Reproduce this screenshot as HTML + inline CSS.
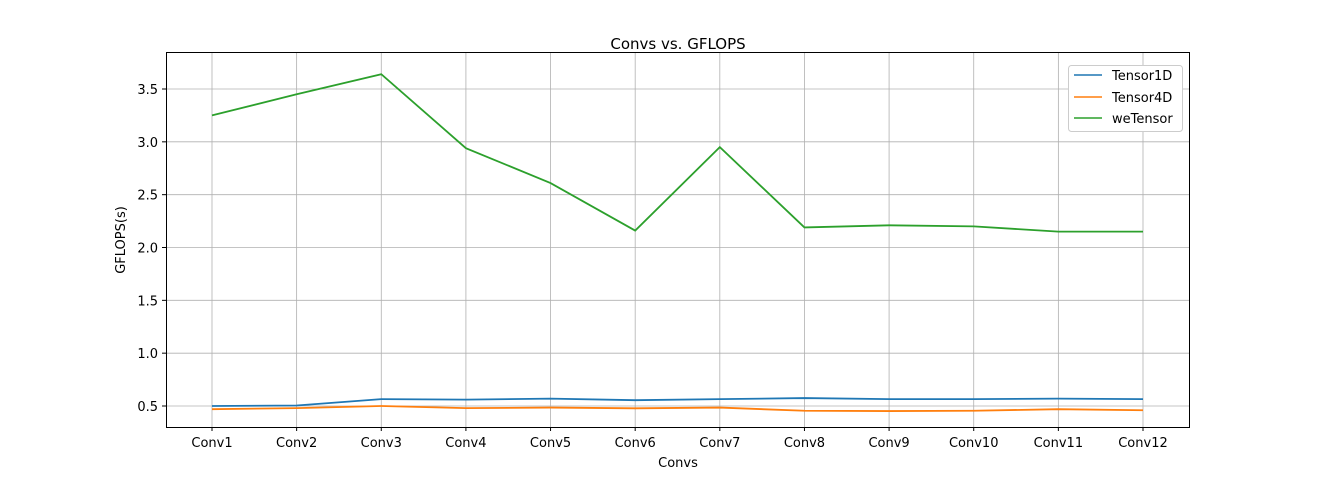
<!DOCTYPE html>
<html><head><meta charset="utf-8"><style>
body{margin:0;background:#fff;font-family:"Liberation Sans","DejaVu Sans",sans-serif}
svg text{font-family:"DejaVu Sans","Liberation Sans",sans-serif;font-size:13px;fill:#000}
</style></head><body>
<svg id="chart" width="1322" height="480" xmlns="http://www.w3.org/2000/svg">
<rect width="1322" height="480" fill="#fff"/>
<g id="grid"></g><g id="lines"></g>
<rect x="166.5" y="52.5" width="1023" height="375" fill="none" stroke="#000" stroke-width="1"/>
<g id="ticks"></g>
<text x="678" y="49" text-anchor="middle" style="font-size:15px">Convs vs. GFLOPS</text>
<text x="678" y="467" text-anchor="middle">Convs</text>
<text transform="translate(125,240) rotate(-90)" text-anchor="middle">GFLOPS(s)</text>
<g>
<rect x="1068.5" y="65.5" width="114" height="66" rx="3" fill="#fff" stroke="#ccc"/>
<line x1="1074" y1="75" x2="1102" y2="75" stroke="#1f77b4" stroke-width="1.5"/><text x="1112" y="80">Tensor1D</text>
<line x1="1074" y1="97" x2="1102" y2="97" stroke="#ff7f0e" stroke-width="1.5"/><text x="1112" y="102">Tensor4D</text>
<line x1="1074" y1="118" x2="1102" y2="118" stroke="#2ca02c" stroke-width="1.5"/><text x="1112" y="123">weTensor</text>
</g>
</svg>
<script>
const categories=["Conv1","Conv2","Conv3","Conv4","Conv5","Conv6","Conv7","Conv8","Conv9","Conv10","Conv11","Conv12"];
const tensor1D=[0.50,0.505,0.565,0.56,0.57,0.555,0.565,0.575,0.565,0.565,0.57,0.565];
const tensor4D=[0.47,0.48,0.50,0.48,0.485,0.478,0.485,0.455,0.452,0.455,0.47,0.46];
const weTensor=[3.25,3.45,3.64,2.94,2.61,2.16,2.95,2.19,2.21,2.20,2.15,2.15];
const yTicks=[0.5,1.0,1.5,2.0,2.5,3.0,3.5];
const NS="http://www.w3.org/2000/svg";
const x=i=>212+i*(1143-212)/11;
const y=v=>406-(v-0.5)*(317/3);
const grid=document.getElementById('grid'),ticks=document.getElementById('ticks'),lines=document.getElementById('lines');
function mk(tag,attrs,parent,txt){const e=document.createElementNS(NS,tag);for(const k in attrs)e.setAttribute(k,attrs[k]);if(txt!==undefined)e.textContent=txt;parent.appendChild(e);return e;}
categories.forEach((c,i)=>{
 const g=mk('line',{x1:x(i),x2:x(i),y1:52,y2:427,stroke:'#b0b0b0','stroke-width':0.8},grid);
 
 
 mk('line',{x1:x(i),x2:x(i),y1:427,y2:431,stroke:'#000'},ticks);
 const t=mk('text',{x:x(i),y:447,'text-anchor':'middle'},ticks,c);
 
 
});
yTicks.forEach(v=>{
 const g=mk('line',{x1:166,x2:1190,y1:y(v),y2:y(v),stroke:'#b0b0b0','stroke-width':0.8},grid);
 
 
 mk('line',{x1:162,x2:166,y1:y(v),y2:y(v),stroke:'#000'},ticks);
 const t=mk('text',{x:158,y:y(v)+5,'text-anchor':'end'},ticks,v.toFixed(1));
 
 
});
[[tensor1D,'#1f77b4','tensor1d-line'],[tensor4D,'#ff7f0e','tensor4d-line'],[weTensor,'#2ca02c','wetensor-line']].forEach(([d,col,n])=>{
 const p=mk('polyline',{points:d.map((v,i)=>x(i)+','+y(v)).join(' '),fill:'none',stroke:col,'stroke-width':1.8},lines);
 
 
});
</script>
</body></html>
